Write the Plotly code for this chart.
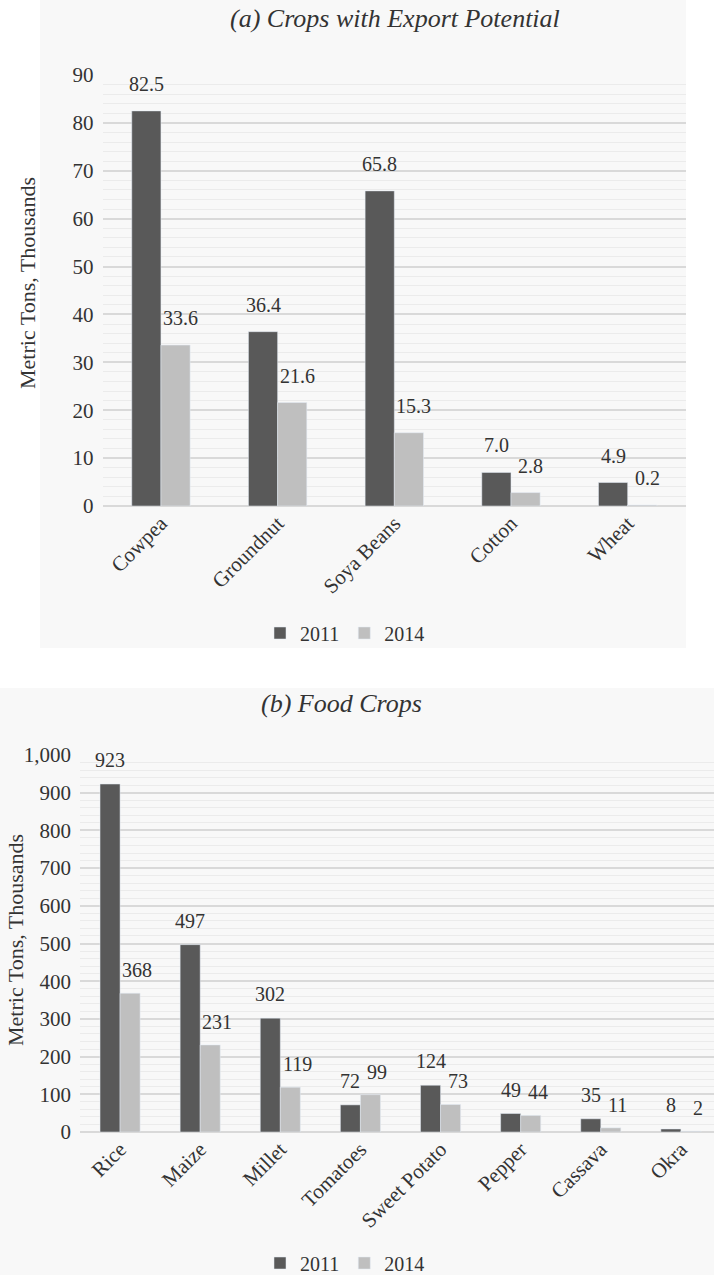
import plotly.graph_objects as go

# ---- data ----
cats_a = ["Cowpea", "Groundnut", "Soya Beans", "Cotton", "Wheat"]
a_2011 = [82.5, 36.4, 65.8, 7.0, 4.9]
a_2014 = [33.6, 21.6, 15.3, 2.8, 0.2]

cats_b = ["Rice", "Maize", "Millet", "Tomatoes", "Sweet Potato", "Pepper", "Cassava", "Okra"]
b_2011 = [923, 497, 302, 72, 124, 49, 35, 8]
b_2014 = [368, 231, 119, 99, 73, 44, 11, 2]

series_names = ["2011", "2014"]
title_a = "(a) Crops with Export Potential"
title_b = "(b) Food Crops"
ytitle = "Metric Tons, Thousands"

# ---- styles ----
W, H = 714, 1275
FONT = "Liberation Serif, Times New Roman, serif"
TXT = "#333333"
C11 = "#595959"
C14 = "#bfbfbf"
PANEL = "#f8f8f8"
GRID = "#d9d9d9"
MINOR = "#ebebeb"

def px_x(p):
    return p / W

def px_y(p):
    return 1 - p / H

fig = go.Figure()

fig.add_trace(go.Bar(x=cats_a, y=a_2011, name=series_names[0], marker_color=C11,
                     xaxis="x", yaxis="y", legend="legend"))
fig.add_trace(go.Bar(x=cats_a, y=a_2014, name=series_names[1], marker_color=C14,
                     xaxis="x", yaxis="y", legend="legend"))
fig.add_trace(go.Bar(x=cats_b, y=b_2011, name=series_names[0], marker_color=C11,
                     xaxis="x2", yaxis="y2", legend="legend2"))
fig.add_trace(go.Bar(x=cats_b, y=b_2014, name=series_names[1], marker_color=C14,
                     xaxis="x2", yaxis="y2", legend="legend2"))

annotations = []
# value labels
for cats, vals, fmt, xs, ys, xr, yr in [
    (cats_a, a_2011, "{:.1f}", -14.5, 27, "x", "y"),
    (cats_a, a_2014, "{:.1f}", 19.5, 27, "x", "y"),
    (cats_b, b_2011, "{:.0f}", -10, 24, "x2", "y2"),
    (cats_b, b_2014, "{:.0f}", 17, 23, "x2", "y2"),
]:
    for c, v in zip(cats, vals):
        annotations.append(dict(x=c, y=v, xref=xr, yref=yr, text=fmt.format(v),
                                showarrow=False, xshift=xs, yshift=ys,
                                xanchor="center", yanchor="middle",
                                font=dict(family=FONT, size=20, color=TXT)))

# titles
annotations.append(dict(x=px_x(395), y=px_y(18), xref="paper", yref="paper", text=title_a,
                        showarrow=False, xanchor="center", yanchor="middle",
                        font=dict(family=FONT, size=26, color=TXT, style="italic")))
annotations.append(dict(x=px_x(341), y=px_y(703), xref="paper", yref="paper", text=title_b,
                        showarrow=False, xanchor="center", yanchor="middle",
                        font=dict(family=FONT, size=26, color=TXT, style="italic")))
# y-axis titles
annotations.append(dict(x=px_x(28), y=px_y(283), xref="paper", yref="paper", text=ytitle,
                        showarrow=False, textangle=-90, xanchor="center", yanchor="middle",
                        font=dict(family=FONT, size=22, color=TXT)))
annotations.append(dict(x=px_x(15), y=px_y(940), xref="paper", yref="paper", text=ytitle,
                        showarrow=False, textangle=-90, xanchor="center", yanchor="middle",
                        font=dict(family=FONT, size=22, color=TXT)))

shapes = [
    dict(type="rect", xref="paper", yref="paper", x0=px_x(40), x1=px_x(686), y0=px_y(648), y1=1,
         fillcolor=PANEL, line_width=0, layer="below"),
    dict(type="rect", xref="paper", yref="paper", x0=0, x1=1, y0=0, y1=px_y(688),
         fillcolor=PANEL, line_width=0, layer="below"),
]

tickfont = dict(family=FONT, size=21, color=TXT)
catfont = dict(family=FONT, size=21, color=TXT)

fig.update_layout(
    width=W, height=H,
    margin=dict(l=0, r=0, t=0, b=0, autoexpand=False),
    paper_bgcolor="white",
    plot_bgcolor="rgba(0,0,0,0)",
    barmode="group", bargap=0.5, bargroupgap=0,
    annotations=annotations,
    shapes=shapes,
    xaxis=dict(domain=[px_x(102.6), px_x(686)], anchor="y", tickangle=-45, tickfont=catfont,
               showgrid=False, showline=False, ticks="", range=[-0.5, 4.5]),
    yaxis=dict(domain=[px_y(506), px_y(75)], anchor="x", range=[0, 90], dtick=10,
               tickfont=tickfont, gridcolor=GRID, gridwidth=1.5, zeroline=True,
               zerolinecolor=GRID, zerolinewidth=2, showline=False, ticks="",
               ticklabelstandoff=8,
               minor=dict(dtick=2, showgrid=True, gridcolor=MINOR, gridwidth=1)),
    xaxis2=dict(domain=[px_x(80), 1], anchor="y2", tickangle=-45, tickfont=catfont,
                showgrid=False, showline=False, ticks="", range=[-0.5, 7.413]),
    yaxis2=dict(domain=[px_y(1132), px_y(755)], anchor="x2", range=[0, 1000], dtick=100,
                tickformat=",d", tickfont=tickfont, gridcolor=GRID, gridwidth=1.5,
                zeroline=True, zerolinecolor=GRID, zerolinewidth=2, showline=False,
                ticks="", ticklabelstandoff=8,
                minor=dict(dtick=20, showgrid=True, gridcolor=MINOR, gridwidth=1)),
    legend=dict(orientation="h", x=px_x(345), y=px_y(633), xanchor="center", yanchor="middle",
                font=dict(family=FONT, size=20, color=TXT), bgcolor="rgba(0,0,0,0)"),
    legend2=dict(orientation="h", x=px_x(345), y=px_y(1263), xanchor="center", yanchor="middle",
                 font=dict(family=FONT, size=20, color=TXT), bgcolor="rgba(0,0,0,0)"),
)

fig.write_html(
    "out.html",
    config={"displayModeBar": False},
    post_script="document.body.style.margin='0';document.body.style.padding='0';"
                "document.documentElement.style.overflow='hidden';document.body.style.overflow='hidden';",
)
